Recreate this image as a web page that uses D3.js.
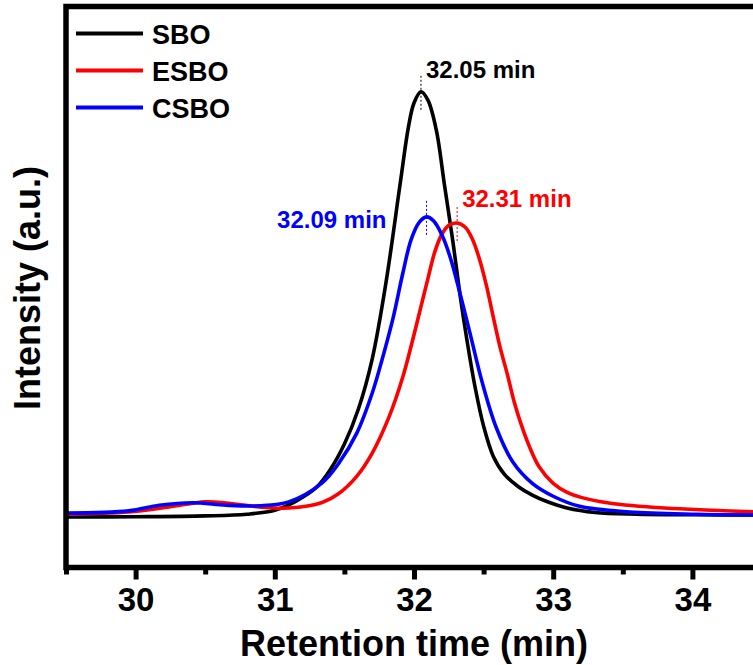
<!DOCTYPE html>
<html>
<head>
<meta charset="utf-8">
<script src="https://cdn.jsdelivr.net/npm/d3@7"></script>
<style>
  body { margin: 0; background: #fff; }
  svg text { font-family: "Liberation Sans", Arial, sans-serif; font-weight: bold; }
</style>
</head>
<body>
<div id="chart"></div>
<script>
// retention time (min) vs intensity (a.u., 0-100 over the frame height)
var sbo = [
  [29.5, 9.0], [30.0, 9.05], [30.5, 9.2], [30.8, 9.5], [31.0, 10.2], [31.15, 11.8],
  [31.3, 14.3], [31.4, 17.5], [31.5, 22.0], [31.6, 28.2], [31.7, 37.2], [31.8, 51.0],
  [31.9, 68.3], [31.96, 78.5], [32.0, 82.8], [32.05, 84.8], [32.1, 83.3], [32.16, 78.0],
  [32.22, 68.0], [32.28, 58.0], [32.33, 48.7], [32.38, 40.6], [32.44, 32.0], [32.5, 25.2],
  [32.57, 19.8], [32.65, 16.6], [32.75, 14.4], [32.85, 12.9], [32.95, 11.8], [33.1, 10.6],
  [33.3, 9.8], [33.6, 9.5], [34.0, 9.4], [34.5, 9.35]
];
var esbo = [
  [29.5, 9.5], [29.95, 9.9], [30.24, 10.8], [30.5, 11.7], [30.65, 11.5], [30.89, 10.8],
  [31.1, 10.6], [31.34, 11.6], [31.46, 13.2], [31.59, 16.3], [31.7, 20.4], [31.82, 26.8],
  [31.92, 34.0], [32.0, 41.5], [32.05, 46.5], [32.1, 51.5], [32.15, 56.3], [32.2, 59.4],
  [32.25, 61.0], [32.31, 61.4], [32.37, 60.6], [32.42, 58.5], [32.47, 55.0], [32.52, 50.3],
  [32.57, 44.6], [32.62, 39.1], [32.67, 34.5], [32.72, 29.5], [32.77, 25.5], [32.83, 21.5],
  [32.9, 17.9], [33.0, 15.0], [33.1, 13.4], [33.2, 12.5], [33.4, 11.5], [33.8, 10.6],
  [34.5, 9.9]
];
var csbo = [
  [29.5, 9.7], [29.95, 10.1], [30.17, 11.1], [30.41, 11.55], [30.65, 11.1], [30.89, 11.0],
  [31.1, 11.7], [31.34, 15.1], [31.46, 18.6], [31.59, 24.0], [31.7, 31.1], [31.77, 37.0],
  [31.85, 44.5], [31.92, 52.5], [31.98, 58.5], [32.04, 61.6], [32.09, 62.5], [32.14, 61.8],
  [32.2, 59.3], [32.26, 55.3], [32.33, 48.9], [32.4, 42.0], [32.49, 33.0], [32.59, 25.0],
  [32.71, 18.8], [32.85, 15.0], [33.0, 12.7], [33.19, 10.9], [33.55, 9.9], [34.03, 9.5],
  [34.5, 9.36]
];

var seriesNames = ["SBO", "ESBO", "CSBO"];
var seriesColors = ["#000000", "#ff0000", "#0000ff"];
var peakTimes = [32.05, 32.31, 32.09];
var peakValues = [84.8, 61.4, 62.5];
var xTicks = [30, 31, 32, 33, 34];
var xMinorTicks = [29.5, 30.5, 31.5, 32.5, 33.5, 34.5];

var width = 753;
var height = 665;

var svg = d3.select("#chart").append("svg")
    .attr("width", width)
    .attr("height", height);

var x = d3.scaleLinear().domain([29.5, 34.5]).range([66, 762]);
var y = d3.scaleLinear().domain([0, 100]).range([567.5, 6.5]);

var line = d3.line()
    .x(function (d) { return x(d[0]); })
    .y(function (d) { return y(d[1]); })
    .curve(d3.curveCatmullRom.alpha(0.5));

/* curves: black first, blue on top */
var allSeries = [sbo, esbo, csbo];
svg.selectAll("path.curve")
    .data(allSeries)
    .enter().append("path")
    .attr("class", "curve")
    .attr("d", line)
    .attr("fill", "none")
    .attr("stroke", function (d, i) { return seriesColors[i]; })
    .attr("stroke-width", 3.6)
    .attr("stroke-linejoin", "round");

/* peak markers */
var peaks = svg.selectAll("g.peak")
    .data(peakTimes)
    .enter().append("g")
    .attr("class", "peak");

peaks.append("line")
    .attr("x1", function (d) { return x(d); })
    .attr("x2", function (d) { return x(d); })
    .attr("y1", function (d, i) { return y(peakValues[i]) - 16; })
    .attr("y2", function (d, i) { return y(peakValues[i]) + 18; })
    .attr("stroke", function (d, i) { return seriesColors[i]; })
    .attr("stroke-width", 1)
    .attr("stroke-dasharray", "2,2");

var labelDx = [5, 5, -40];
var labelDy = [-14, -16, 11];
peaks.append("text")
    .attr("x", function (d, i) { return x(d) + labelDx[i]; })
    .attr("y", function (d, i) { return y(peakValues[i]) + labelDy[i]; })
    .attr("text-anchor", function (d, i) { return i == 2 ? "end" : "start"; })
    .attr("font-size", "24px")
    .attr("fill", function (d, i) { return seriesColors[i]; })
    .text(function (d) { return d3.format(".2f")(d) + " min"; });

/* frame */
svg.append("rect")
    .attr("x", 66)
    .attr("y", 6.5)
    .attr("width", 696)
    .attr("height", 561)
    .attr("fill", "none")
    .attr("stroke", "#000")
    .attr("stroke-width", 5.5);

/* x axis */
var xAxis = d3.axisBottom(x).tickValues(xTicks).tickSize(12).tickPadding(8)
    .tickFormat(d3.format("d"));
var gx = svg.append("g")
    .attr("transform", "translate(0,567.5)")
    .call(xAxis);
gx.select(".domain").remove();
gx.selectAll(".tick line").attr("stroke-width", 5);
gx.selectAll(".tick text")
    .attr("font-size", "33px")
    .attr("fill", "#000")
    .attr("dy", "0.72em");

var gxMinor = svg.append("g")
    .attr("transform", "translate(0,567.5)")
    .call(d3.axisBottom(x).tickValues(xMinorTicks).tickSize(7).tickFormat(""));
gxMinor.select(".domain").remove();
gxMinor.selectAll(".tick line").attr("stroke-width", 5);

/* axis titles */
svg.append("text")
    .attr("x", 414)
    .attr("y", 656)
    .attr("text-anchor", "middle")
    .attr("font-size", "36px")
    .text("Retention time (min)");

svg.append("text")
    .attr("transform", "translate(40,288) rotate(-90)")
    .attr("text-anchor", "middle")
    .attr("font-size", "36px")
    .text("Intensity (a.u.)");

/* legend */
var legend = svg.selectAll("g.legend")
    .data(seriesNames)
    .enter().append("g")
    .attr("class", "legend")
    .attr("transform", function (d, i) { return "translate(76," + (33.5 + i * 37) + ")"; });

legend.append("line")
    .attr("x1", 0)
    .attr("x2", 67)
    .attr("stroke", function (d, i) { return seriesColors[i]; })
    .attr("stroke-width", 4);

legend.append("text")
    .attr("x", 76)
    .attr("y", 10)
    .attr("font-size", "27px")
    .text(function (d) { return d; });
</script>
</body>
</html>
